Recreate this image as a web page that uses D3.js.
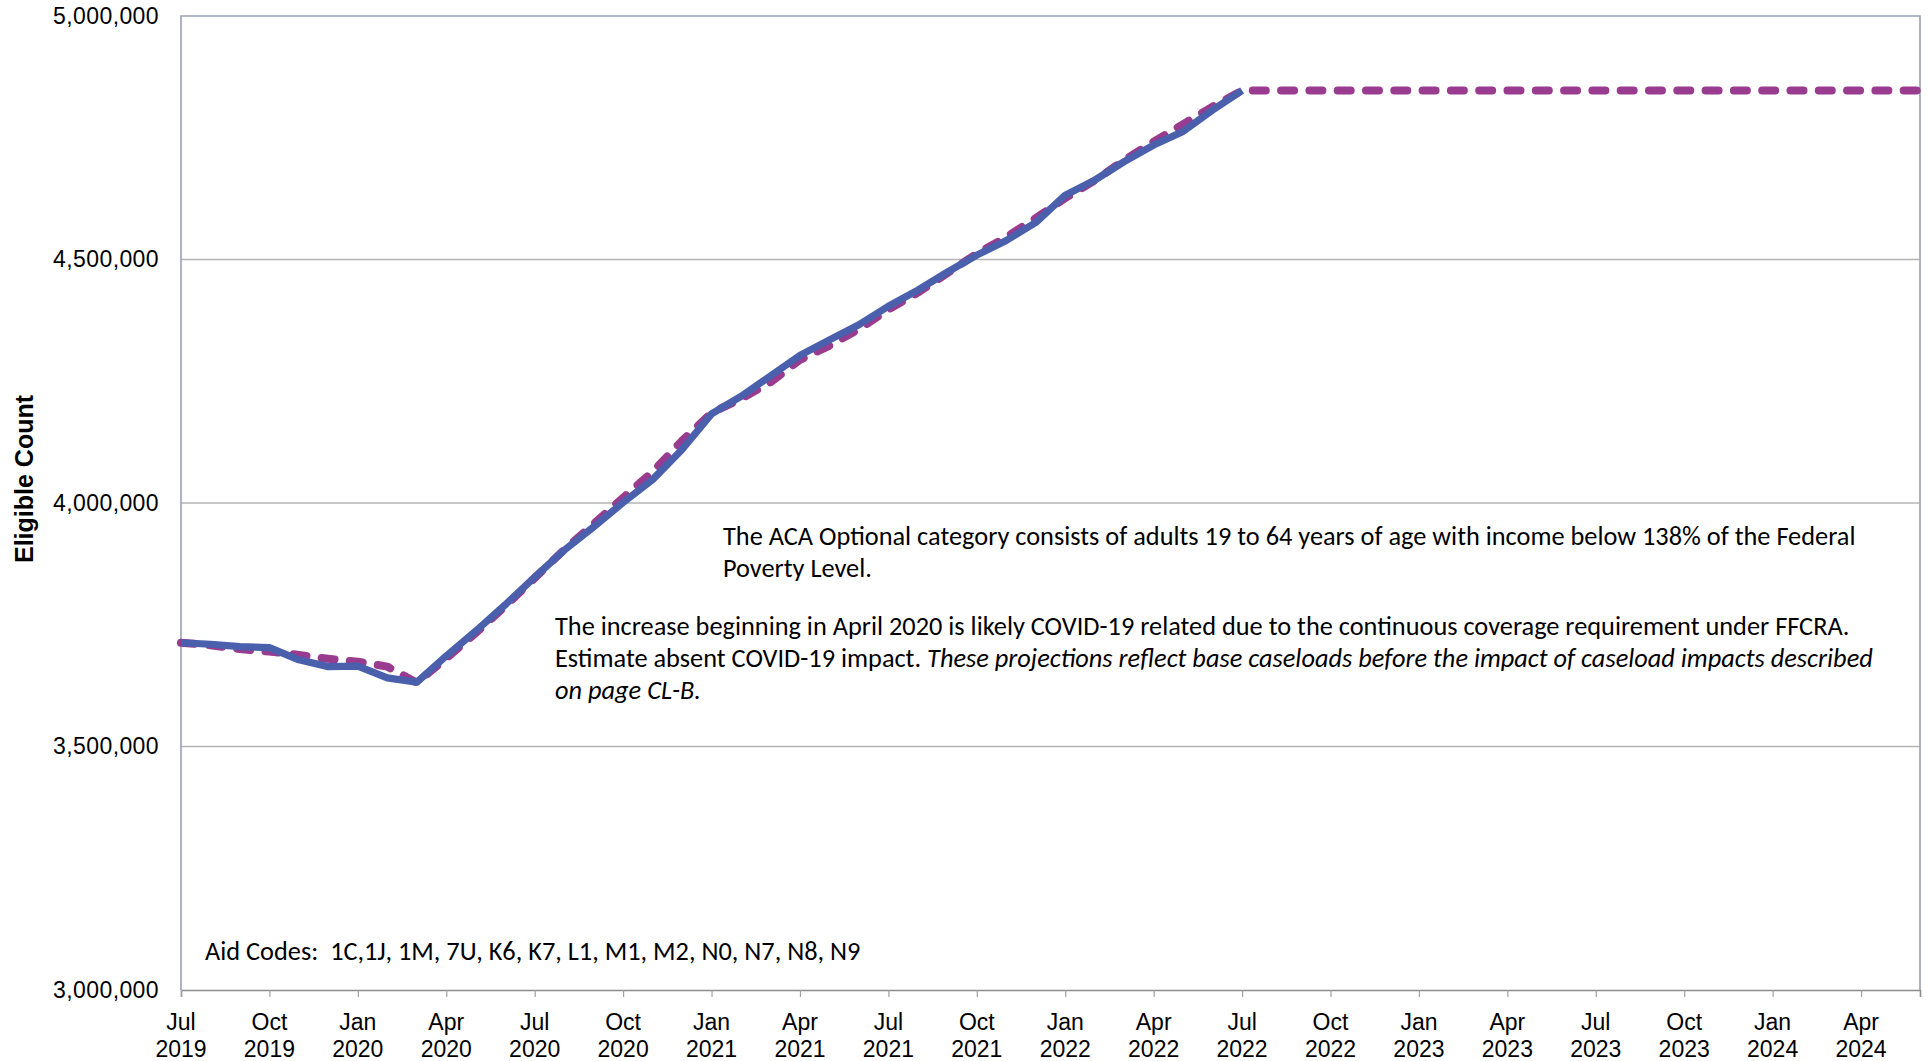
<!DOCTYPE html>
<html>
<head>
<meta charset="utf-8">
<script src="https://cdn.jsdelivr.net/npm/d3@7"></script>
<style>
  html, body { margin: 0; padding: 0; background: #fff; }
  svg { display: block; }
  text { white-space: pre; }
</style>
</head>
<body>
<svg id="chart" width="1928" height="1061"></svg>
<script>
// ---------- DATA ----------
// month index 0 = Jul 2019
const categories = [
  "2019-07","2019-08","2019-09","2019-10","2019-11","2019-12",
  "2020-01","2020-02","2020-03","2020-04","2020-05","2020-06",
  "2020-07","2020-08","2020-09","2020-10","2020-11","2020-12",
  "2021-01","2021-02","2021-03","2021-04","2021-05","2021-06",
  "2021-07","2021-08","2021-09","2021-10","2021-11","2021-12",
  "2022-01","2022-02","2022-03","2022-04","2022-05","2022-06",
  "2022-07","2022-08","2022-09","2022-10","2022-11","2022-12",
  "2023-01","2023-02","2023-03","2023-04","2023-05","2023-06",
  "2023-07","2023-08","2023-09","2023-10","2023-11","2023-12",
  "2024-01","2024-02","2024-03","2024-04","2024-05","2024-06"
];
// actual eligibles (solid blue), Jul 2019 - Jul 2022
const actualValues = [
  3713000, 3710000, 3705000, 3703000, 3678000, 3664000,
  3665000, 3641000, 3632000, 3686000, 3737000, 3791000,
  3848000, 3903000, 3951000, 4001000, 4048000, 4110000,
  4183000, 4219000, 4261000, 4303000, 4335000, 4366000,
  4404000, 4437000, 4474000, 4509000, 4539000, 4576000,
  4632000, 4663000, 4701000, 4735000, 4763000, 4807000,
  4847000
];
// projection (dashed purple), Jul 2019 - Jun 2024
const projectedValues = [
  3713000, 3708000, 3700000, 3695000, 3688000, 3680000,
  3674000, 3664000, 3631000, 3681000, 3733000, 3788000,
  3846000, 3904000, 3957000, 4011000, 4064000, 4128000,
  4185000, 4214000, 4248000, 4294000, 4323000, 4357000,
  4397000, 4432000, 4472000, 4512000, 4546000, 4585000,
  4626000, 4662000, 4704000, 4742000, 4778000, 4814000,
  4847000, 4847000, 4847000, 4847000, 4847000, 4847000,
  4847000, 4847000, 4847000, 4847000, 4847000, 4847000,
  4847000, 4847000, 4847000, 4847000, 4847000, 4847000,
  4847000, 4847000, 4847000, 4847000, 4847000, 4847000
];
const xTickMonths = ["Jul","Oct","Jan","Apr","Jul","Oct","Jan","Apr","Jul","Oct","Jan","Apr","Jul","Oct","Jan","Apr","Jul","Oct","Jan","Apr"];
const xTickYears  = ["2019","2019","2020","2020","2020","2020","2021","2021","2021","2021","2022","2022","2022","2022","2023","2023","2023","2023","2024","2024"];
const yTicks = [3000000, 3500000, 4000000, 4500000, 5000000];
const yTitle = "Eligible Count";
const note1 = ["The ACA Optional category consists of adults 19 to 64 years of age with income below 138% of the Federal", "Poverty Level."];
const note2a = "The increase beginning in April 2020 is likely COVID-19 related due to the continuous coverage requirement under FFCRA.";
const note2b = ["Estimate absent COVID-19 impact. ", "These projections reflect base caseloads before the impact of caseload impacts described"];
const note2c = "on page CL-B.";
const aidCodes = "Aid Codes:  1C,1J, 1M, 7U, K6, K7, L1, M1, M2, N0, N7, N8, N9";

// ---------- LAYOUT ----------
const L = 181, R = 1920, T = 16, B = 990;
const svg = d3.select("#chart");

const x = d3.scaleLinear().domain([0, categories.length - 1]).range([L, R]);
const y = d3.scaleLinear().domain([3000000, 5000000]).range([B, T]);

// gridlines
svg.append("g").selectAll("line")
  .data(yTicks.filter(v => v > 3000000 && v < 5000000))
  .join("line")
  .attr("x1", L).attr("x2", R)
  .attr("y1", d => y(d)).attr("y2", d => y(d))
  .attr("stroke", "#b4b4b4").attr("stroke-width", 1.3);

// plot border (top, left, right)
svg.append("path")
  .attr("d", `M${L},${B} L${L},${T} L${R},${T} L${R},${B}`)
  .attr("fill", "none").attr("stroke", "#98a2b6").attr("stroke-width", 1.6);

// x axis
const tickIdx = xTickMonths.map((_, i) => i * 3);
const xAxis = d3.axisBottom(x).tickValues(tickIdx).tickSize(7).tickFormat("");
const gx = svg.append("g").attr("transform", `translate(0,${B})`).call(xAxis);
gx.select(".domain").attr("stroke", "#8c8c8c").attr("stroke-width", 1.6);
gx.selectAll(".tick line").attr("stroke", "#a0a0a0").attr("stroke-width", 1.2);
const xl = svg.append("g").attr("font-family", "'Liberation Sans', Arial, sans-serif")
  .attr("font-size", 23).attr("fill", "#000").attr("text-anchor", "middle");
xl.selectAll("text.m").data(tickIdx).join("text").attr("class", "m")
  .attr("x", d => x(d)).attr("y", 1030).text((d, i) => xTickMonths[i]);
xl.selectAll("text.yr").data(tickIdx).join("text").attr("class", "yr")
  .attr("x", d => x(d)).attr("y", 1057).text((d, i) => xTickYears[i]);

// y axis labels
const yAxis = d3.axisLeft(y).tickValues(yTicks).tickSize(0).tickPadding(22)
  .tickFormat(d3.format(","));
const gy = svg.append("g").attr("transform", `translate(${L},0)`).call(yAxis);
gy.select(".domain").remove();
gy.selectAll("text").attr("font-family", "'Liberation Sans', Arial, sans-serif")
  .attr("font-size", 23).attr("fill", "#000").attr("letter-spacing", 0.4);

// y title
svg.append("text")
  .attr("transform", "translate(33,479) rotate(-90)")
  .attr("text-anchor", "middle")
  .attr("font-family", "'Liberation Sans', Arial, sans-serif")
  .attr("font-weight", "bold").attr("font-size", 25).attr("fill", "#000")
  .text(yTitle);

// lines
const line = d3.line().x((d, i) => x(i)).y(d => y(d));
svg.append("path").datum(projectedValues)
  .attr("d", line).attr("fill", "none")
  .attr("stroke", "#993b8e").attr("stroke-width", 8)
  .attr("stroke-dasharray", "13,15.3").attr("stroke-linecap", "round")
  .attr("stroke-linejoin", "round");
svg.append("path").datum(actualValues)
  .attr("d", line).attr("fill", "none")
  .attr("stroke", "#4a60ad").attr("stroke-width", 7.2)
  .attr("stroke-linejoin", "round");

// annotations
const noteFont = "Carlito, Calibri, Lato, 'Noto Sans', sans-serif";
const ng = svg.append("g").attr("font-family", noteFont).attr("fill", "#000");
const lines = [];
lines.push(ng.append("text").attr("x", 723).attr("y", 545).text(note1[0]));
lines.push(ng.append("text").attr("x", 723).attr("y", 577).text(note1[1]));
lines.push(ng.append("text").attr("x", 555).attr("y", 635).text(note2a));
const t2b = ng.append("text").attr("x", 555).attr("y", 667);
t2b.append("tspan").text(note2b[0]);
t2b.append("tspan").attr("font-style", "italic").text(note2b[1]);
lines.push(t2b);
lines.push(ng.append("text").attr("x", 555).attr("y", 699).attr("font-style", "italic").text(note2c));
const aid = ng.append("text").attr("x", 205).attr("y", 960).text(aidCodes);

// fit annotation size to reference widths
ng.attr("font-size", 22);
const targets = [[lines[0], 1131], [lines[2], 1297], [lines[3], 1319]];
let s = 0;
targets.forEach(([el, w]) => { s += w / el.node().getComputedTextLength(); });
s /= targets.length;
ng.attr("font-size", 22 * s);
</script>
</body>
</html>
